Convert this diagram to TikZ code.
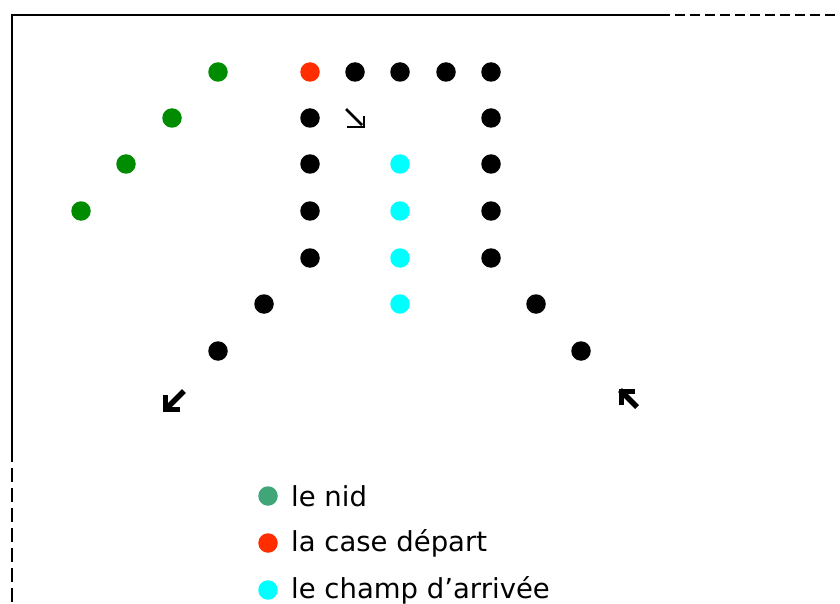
\documentclass[tikz,border=0pt]{standalone}
\usepackage{fontspec}
\setmainfont{DejaVu Sans}
\usepackage{xcolor}
\usetikzlibrary{positioning}
\definecolor{nidgreen}{RGB}{0,140,0}
\definecolor{legendgreen}{RGB}{64,166,122}
\definecolor{departred}{RGB}{255,45,0}
\definecolor{arriveecyan}{RGB}{0,255,255}
\tikzset{
  pion/.style={circle,inner sep=0pt,minimum size=19.5pt,fill=#1},
  pion/.default=black,
  fleche/.style={line width=5.5pt,line cap=butt,line join=miter},
  legende/.style={right,inner sep=0pt,font=\fontsize{27.5}{33}\selectfont}
}
\begin{document}
\begin{tikzpicture}[x=1pt,y=-1pt]
\useasboundingbox (0,0) rectangle (840,604);
% bord du plateau
\draw[line width=2pt] (12,448) -- (12,15) -- (660,15);
\draw[line width=2pt,dash pattern=on 14pt off 6pt] (12,448) -- (12,604);
\draw[line width=2pt,dash pattern=on 10pt off 5pt] (660,15) -- (840,15);
% le nid
\node[pion=nidgreen] (n1) at (218,72) {};
\node[pion=nidgreen] (n2) at (172,118) {};
\node[pion=nidgreen] (n3) at (126,164) {};
\node[pion=nidgreen] (n4) at (81,211) {};
% la case depart
\node[pion=departred] (d) at (310,72) {};
% les cases
\node[pion] (c1) at (355,72) {};
\node[pion] (c2) at (400,72) {};
\node[pion] (c3) at (446,72) {};
\node[pion] (c4) at (491,72) {};
\node[pion] (c5) at (491,118) {};
\node[pion] (c6) at (491,164) {};
\node[pion] (c7) at (491,211) {};
\node[pion] (c8) at (491,258) {};
\node[pion] (c9) at (536,304) {};
\node[pion] (c10) at (581,351) {};
\node[pion] (b1) at (310,118) {};
\node[pion] (b2) at (310,164) {};
\node[pion] (b3) at (310,211) {};
\node[pion] (b4) at (310,258) {};
\node[pion] (b5) at (264,304) {};
\node[pion] (b6) at (218,351) {};
% le champ d'arrivee
\node[pion=arriveecyan] (a1) at (400,164) {};
\node[pion=arriveecyan] (a2) at (400,211) {};
\node[pion=arriveecyan] (a3) at (400,258) {};
\node[pion=arriveecyan] (a4) at (400,304) {};
% fleches
\draw[line width=2.5pt] (346,109) -- (362,125);
\draw[line width=2.5pt] (347,127) -- (364,127) -- (364,116);
\draw[fleche] (184,391) -- (168,407);
\draw[fleche] (165.5,395) -- (165.5,409.5) -- (180,409.5);
\draw[fleche] (620,390) -- (637,407);
\draw[fleche] (621.5,405) -- (621.5,391.5) -- (635,391.5);
% legende
\node[pion=legendgreen] (l1) at (268,496) {};
\node[pion=departred] (l2) at (268,543) {};
\node[pion=arriveecyan] (l3) at (268,590) {};
\node[legende] (t1) at (291,496) {le nid};
\node[legende] (t2) at (291,543) {la case départ};
\node[legende] (t3) at (291,590) {le champ d’arrivée};
\end{tikzpicture}
\end{document}
